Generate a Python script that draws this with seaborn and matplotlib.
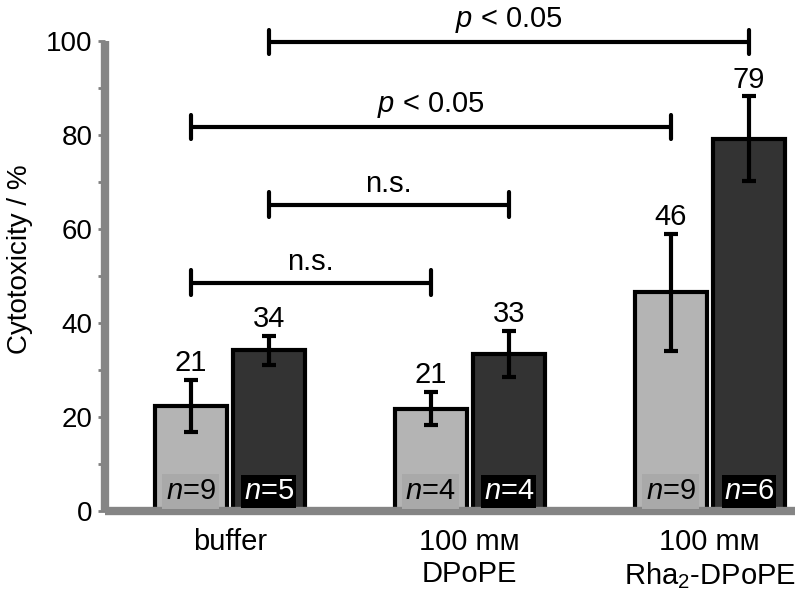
import numpy as np
import pandas as pd
import matplotlib
matplotlib.use("Agg")
import matplotlib.pyplot as plt
import seaborn as sns

## data
groups = ["buffer", "100 m\u1d0d\nDPoPE", "100 m\u1d0d\nRha$_2$-DPoPE"]
series = ["light", "dark"]
light_vals = [22.3, 21.8, 46.5]
dark_vals = [34.2, 33.4, 79.2]
light_err = [5.6, 3.5, 12.4]
dark_err = [3.1, 4.9, 9.0]
light_labels = ["21", "21", "46"]
dark_labels = ["34", "33", "79"]
light_n = ["9", "4", "9"]
dark_n = ["5", "4", "6"]
# (group i, series a) -> (group j, series b), height, text
brackets = [((0, 0), (1, 0), 48.6, "n.s."),
            ((0, 1), (1, 1), 65.2, "n.s."),
            ((0, 0), (2, 0), 81.7, "$p$ < 0.05"),
            ((0, 1), (2, 1), 99.8, "$p$ < 0.05")]

df = pd.DataFrame({
    "group": groups * 2,
    "series": ["light"] * 3 + ["dark"] * 3,
    "value": light_vals + dark_vals,
})

sns.set_theme(style="ticks")
plt.rcParams["font.family"] = ["Liberation Sans", "DejaVu Sans"]
plt.rcParams["mathtext.fontset"] = "custom"
plt.rcParams["mathtext.rm"] = "Liberation Sans"
plt.rcParams["mathtext.it"] = "Liberation Sans:italic"
plt.rcParams["text.color"] = "black"
plt.rcParams["axes.labelcolor"] = "black"

fig = plt.figure(figsize=(8, 6.05), dpi=100)
ax = fig.add_axes([0.131, 0.1554, 0.8625, 0.7769])

sns.barplot(data=df, x="group", y="value", hue="series", hue_order=series,
            palette={"light": "#b4b4b4", "dark": "#333333"},
            edgecolor="black", linewidth=3, width=0.652, gap=0.08,
            errorbar=None, legend=False, ax=ax)

fs = 21
## bar centres from the drawn patches
xpos = {}
for bar in ax.patches:
    x = bar.get_x() + bar.get_width() / 2
    g = int(round(x))
    s = 0 if x < g else 1
    xpos[(g, s)] = x

for (g, s), x in xpos.items():
    errs = light_err if s == 0 else dark_err
    vals = light_vals if s == 0 else dark_vals
    labs = light_labels if s == 0 else dark_labels
    ns = light_n if s == 0 else dark_n
    ax.errorbar(x, vals[g], yerr=errs[g], color="black", lw=3,
                capsize=4.7, capthick=3, fmt="none", zorder=3)
    ax.text(x, vals[g] + errs[g] + 0.6, labs[g], ha="center", va="bottom",
            fontsize=fs, color="black")
    if s == 0:
        ax.text(x, 4.2, "$n$=" + ns[g], ha="center", va="center", fontsize=fs,
                color="black",
                bbox=dict(boxstyle="square,pad=0.12", fc="#a9a9a9", ec="none"))
    else:
        ax.text(x, 4.2, "$n$=" + ns[g], ha="center", va="center", fontsize=fs,
                color="white",
                bbox=dict(boxstyle="square,pad=0.08", fc="black", ec="none"))

## significance brackets
for a, b, h, txt in brackets:
    x1, x2 = xpos[a], xpos[b]
    ax.plot([x1, x2], [h, h], color="black", lw=3, clip_on=False, zorder=4)
    ax.plot([x1, x1], [h - 2.6, h + 2.6], color="black", lw=3, clip_on=False, zorder=4)
    ax.plot([x2, x2], [h - 2.6, h + 2.6], color="black", lw=3, clip_on=False, zorder=4)
    ax.text((x1 + x2) / 2, h + 1.4, txt, ha="center", va="bottom", fontsize=fs,
            clip_on=False)

ax.set_xlim(-0.52, 2.354)
ax.set_ylim(0, 100)
ax.set_yticks(np.arange(0, 101, 20))
ax.set_yticks(np.arange(10, 100, 20), minor=True)
ax.tick_params(axis="y", which="both", colors="#808080", length=5, width=2,
               labelcolor="black", labelsize=20, pad=4)
ax.tick_params(axis="x", length=0, labelsize=fs, pad=12, labelcolor="black")
ax.set_xlabel("")
ax.set_ylabel("Cytotoxicity / %", fontsize=20)
ax.yaxis.set_label_coords(-0.104, 0.535)

sns.despine(ax=ax)
for side in ["left", "bottom"]:
    ax.spines[side].set_color("#858585")
    ax.spines[side].set_linewidth(6)
    ax.spines[side].set_capstyle("butt")

fig.savefig("out.png", dpi=100)
